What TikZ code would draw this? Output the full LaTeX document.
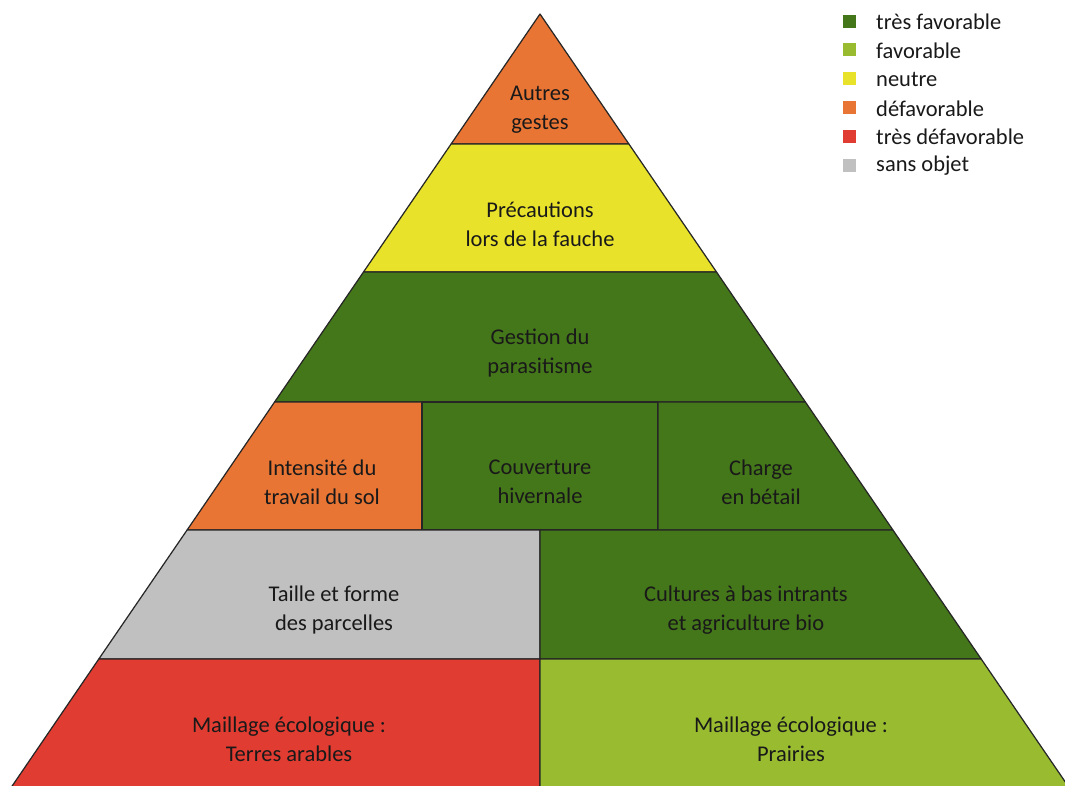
\documentclass[tikz,border=0pt]{standalone}
\usepackage{fontspec}
\setmainfont{Carlito}
\definecolor{tresfav}{HTML}{44761A}
\definecolor{fav}{HTML}{98BB30}
\definecolor{neutre}{HTML}{E8E22A}
\definecolor{defav}{HTML}{E97535}
\definecolor{tresdefav}{HTML}{E03C31}
\definecolor{sansobj}{HTML}{C0C0C0}
\begin{document}
\begin{tikzpicture}[x=0.02cm,y=-0.02cm,
    bloc/.style={draw=black!85,line width=0.7pt,line join=round},
    lbl/.style={align=center,text=black!90,font=\fontsize{12.8}{16.5}\selectfont},
    leg/.style={anchor=west,text=black!90,font=\fontsize{12.8}{14}\selectfont}]
  \useasboundingbox (0,0) rectangle (1065,785);
  \begin{scope}
    \clip (0,0) rectangle (1065,785);
    % sommet
    \filldraw[bloc,fill=defav] (540,14) -- (628.9,144) -- (451.1,144) -- cycle;
    \filldraw[bloc,fill=neutre] (451.1,144) -- (628.9,144) -- (716.5,272) -- (363.5,272) -- cycle;
    \filldraw[bloc,fill=tresfav] (363.5,272) -- (716.5,272) -- (805.4,402) -- (274.6,402) -- cycle;
    % rang 4
    \filldraw[bloc,fill=defav] (274.6,402) -- (422,402) -- (422,530) -- (187.1,530) -- cycle;
    \filldraw[bloc,fill=tresfav] (422,402) -- (658,402) -- (658,530) -- (422,530) -- cycle;
    \filldraw[bloc,fill=tresfav] (658,402) -- (805.4,402) -- (892.9,530) -- (658,530) -- cycle;
    % rang 5
    \filldraw[bloc,fill=sansobj] (187.1,530) -- (540,530) -- (540,659) -- (98.8,659) -- cycle;
    \filldraw[bloc,fill=tresfav] (540,530) -- (892.9,530) -- (981.2,659) -- (540,659) -- cycle;
    % base
    \filldraw[bloc,fill=tresdefav] (98.8,659) -- (540,659) -- (540,790) -- (9.4,790) -- cycle;
    \filldraw[bloc,fill=fav] (540,659) -- (981.2,659) -- (1070.8,790) -- (540,790) -- cycle;
  \end{scope}
  \node[lbl] (autres) at (540,110) {Autres\\gestes};
  \node[lbl] (fauche) at (540,224) {Précautions\\lors de la fauche};
  \node[lbl] (parasit) at (540,353) {Gestion du\\parasitisme};
  \node[lbl] (travail) at (322,482) {Intensité du\\travail du sol};
  \node[lbl] (couvert) at (540,482) {Couverture\\hivernale};
  \node[lbl] (charge) at (761,482) {Charge\\en bétail};
  \node[lbl] (taille) at (334,610) {Taille et forme\\des parcelles};
  \node[lbl] (cultures) at (746,610) {Cultures à bas intrants\\et agriculture bio};
  \node[lbl] (terres) at (289,739) {Maillage écologique :\\Terres arables};
  \node[lbl] (prairies) at (791,739) {Maillage écologique :\\Prairies};
  % legende
  \foreach \i/\c/\t in {0/tresfav/très favorable, 1/fav/favorable, 2/neutre/neutre,
      3/defav/défavorable, 4/tresdefav/très défavorable, 5/sansobj/sans objet}{
    \fill[\c] (843,{14.5+28.8*\i}) rectangle (856,{27.5+28.8*\i});
    \node[leg] (L\i) at (870,{22+28.8*\i}) {\t};
  }
\end{tikzpicture}
\end{document}
